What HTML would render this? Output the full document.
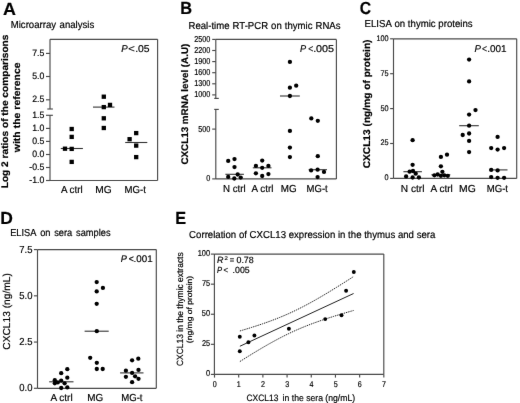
<!DOCTYPE html>
<html><head><meta charset="utf-8"><style>
html,body{margin:0;padding:0;background:#fff;}
svg{display:block;}
text{font-family:"Liberation Sans",sans-serif;text-rendering:geometricPrecision;stroke:#000;stroke-width:0.18px;}
#w{will-change:transform;width:520px;height:403px;}
</style></head><body>
<div id="w"><svg width="520" height="403" viewBox="0 0 520 403">
<defs><filter id="bl" color-interpolation-filters="sRGB" x="0" y="0" width="520" height="403" filterUnits="userSpaceOnUse"><feConvolveMatrix order="3" kernelMatrix="0.00276 0.04704 0.00276 0.04704 0.80077 0.04704 0.00276 0.04704 0.00276" edgeMode="duplicate" preserveAlpha="true"/></filter></defs>
<g filter="url(#bl)">
<rect width="520" height="403" fill="#fff"/>
<text transform="translate(3.10,14.65) scale(1.0235,1)" font-size="17.5" font-weight="bold" fill="#000" >A</text>
<text transform="translate(180.24,13.75) scale(0.9368,1)" font-size="17.5" font-weight="bold" fill="#000" >B</text>
<text transform="translate(359.82,14.05) scale(0.8986,1)" font-size="17.5" font-weight="bold" fill="#000" >C</text>
<text transform="translate(0.17,223.85) scale(0.9983,1)" font-size="17.5" font-weight="bold" fill="#000" >D</text>
<text transform="translate(175.35,224.05) scale(0.9286,1)" font-size="17.5" font-weight="bold" fill="#000" >E</text>
<text transform="translate(10.71,28.40) scale(1.0325,1.08)" font-size="9.3" font-weight="normal" fill="#000">Microarray</text>
<text transform="translate(59.55,28.40) scale(1.0325,1.08)" font-size="9.3" font-weight="normal" fill="#000">analysis</text>
<text transform="translate(188.51,28.50) scale(1.0322,1.08)" font-size="9.3" font-weight="normal" fill="#000">Real-time</text>
<text transform="translate(232.56,28.50) scale(1.0322,1.08)" font-size="9.3" font-weight="normal" fill="#000">RT-PCR</text>
<text transform="translate(271.09,28.50) scale(1.0322,1.08)" font-size="9.3" font-weight="normal" fill="#000">on</text>
<text transform="translate(284.75,28.50) scale(1.0322,1.08)" font-size="9.3" font-weight="normal" fill="#000">thymic</text>
<text transform="translate(315.46,28.50) scale(1.0322,1.08)" font-size="9.3" font-weight="normal" fill="#000">RNAs</text>
<text transform="translate(364.51,26.50) scale(1.0356,1.08)" font-size="9.3" font-weight="normal" fill="#000">ELISA</text>
<text transform="translate(394.48,26.50) scale(1.0356,1.08)" font-size="9.3" font-weight="normal" fill="#000">on</text>
<text transform="translate(407.87,26.50) scale(1.0356,1.08)" font-size="9.3" font-weight="normal" fill="#000">thymic</text>
<text transform="translate(438.37,26.50) scale(1.0356,1.08)" font-size="9.3" font-weight="normal" fill="#000">proteins</text>
<text transform="translate(10.14,236.30) scale(0.9962,1.08)" font-size="9.3" font-weight="normal" fill="#000">ELISA</text>
<text transform="translate(40.17,236.30) scale(0.9962,1.08)" font-size="9.3" font-weight="normal" fill="#000">on</text>
<text transform="translate(54.24,236.30) scale(0.9962,1.08)" font-size="9.3" font-weight="normal" fill="#000">sera</text>
<text transform="translate(76.04,236.30) scale(0.9962,1.08)" font-size="9.3" font-weight="normal" fill="#000">samples</text>
<text transform="translate(189.12,238.40) scale(1.0356,1.08)" font-size="9.3" font-weight="normal" fill="#000">Correlation</text>
<text transform="translate(238.90,238.40) scale(1.0356,1.08)" font-size="9.3" font-weight="normal" fill="#000">of</text>
<text transform="translate(249.61,238.40) scale(1.0356,1.08)" font-size="9.3" font-weight="normal" fill="#000">CXCL13</text>
<text transform="translate(288.69,238.40) scale(1.0356,1.08)" font-size="9.3" font-weight="normal" fill="#000">expression</text>
<text transform="translate(337.94,238.40) scale(1.0356,1.08)" font-size="9.3" font-weight="normal" fill="#000">in</text>
<text transform="translate(348.11,238.40) scale(1.0356,1.08)" font-size="9.3" font-weight="normal" fill="#000">the</text>
<text transform="translate(364.18,238.40) scale(1.0356,1.08)" font-size="9.3" font-weight="normal" fill="#000">thymus</text>
<text transform="translate(397.90,238.40) scale(1.0356,1.08)" font-size="9.3" font-weight="normal" fill="#000">and</text>
<text transform="translate(416.64,238.40) scale(1.0356,1.08)" font-size="9.3" font-weight="normal" fill="#000">sera</text>
<line x1="50.0" y1="39.3" x2="157.6" y2="39.3" stroke="#4a4a4a" stroke-width="1.15" />
<line x1="157.6" y1="39.3" x2="157.6" y2="180.5" stroke="#4a4a4a" stroke-width="1.15" />
<line x1="50.0" y1="180.5" x2="157.6" y2="180.5" stroke="#4a4a4a" stroke-width="1.15" />
<line x1="50.0" y1="39.3" x2="50.0" y2="109.0" stroke="#4a4a4a" stroke-width="1.15" />
<line x1="47.3" y1="109.0" x2="52.9" y2="109.0" stroke="#4a4a4a" stroke-width="1.15" />
<line x1="50.0" y1="115.3" x2="50.0" y2="180.5" stroke="#4a4a4a" stroke-width="1.15" />
<line x1="46.0" y1="115.3" x2="52.9" y2="115.3" stroke="#4a4a4a" stroke-width="1.15" />
<line x1="46.0" y1="53.4" x2="50.0" y2="53.4" stroke="#4a4a4a" stroke-width="1.15" />
<text transform="translate(32.20,56.00) scale(0.9500,1)" font-size="9.2" font-weight="normal" fill="#000">7.5</text>
<line x1="46.0" y1="76.5" x2="50.0" y2="76.5" stroke="#4a4a4a" stroke-width="1.15" />
<text transform="translate(32.18,79.10) scale(0.9500,1)" font-size="9.2" font-weight="normal" fill="#000">5.0</text>
<line x1="46.0" y1="99.8" x2="50.0" y2="99.8" stroke="#4a4a4a" stroke-width="1.15" />
<text transform="translate(32.20,102.40) scale(0.9500,1)" font-size="9.2" font-weight="normal" fill="#000">2.5</text>
<text transform="translate(32.20,117.90) scale(0.9500,1)" font-size="9.2" font-weight="normal" fill="#000">1.5</text>
<line x1="46.0" y1="128.4" x2="50.0" y2="128.4" stroke="#4a4a4a" stroke-width="1.15" />
<text transform="translate(32.18,131.00) scale(0.9500,1)" font-size="9.2" font-weight="normal" fill="#000">1.0</text>
<line x1="46.0" y1="141.4" x2="50.0" y2="141.4" stroke="#4a4a4a" stroke-width="1.15" />
<text transform="translate(32.20,144.00) scale(0.9500,1)" font-size="9.2" font-weight="normal" fill="#000">0.5</text>
<line x1="46.0" y1="154.5" x2="50.0" y2="154.5" stroke="#4a4a4a" stroke-width="1.15" />
<text transform="translate(32.18,157.10) scale(0.9500,1)" font-size="9.2" font-weight="normal" fill="#000">0.0</text>
<line x1="46.0" y1="167.5" x2="50.0" y2="167.5" stroke="#4a4a4a" stroke-width="1.15" />
<text transform="translate(29.29,170.10) scale(0.9500,1)" font-size="9.2" font-weight="normal" fill="#000">-0.5</text>
<line x1="46.0" y1="180.5" x2="50.0" y2="180.5" stroke="#4a4a4a" stroke-width="1.15" />
<text transform="translate(29.27,183.10) scale(0.9500,1)" font-size="9.2" font-weight="normal" fill="#000">-1.0</text>
<line x1="60.8" y1="148.5" x2="82.9" y2="148.5" stroke="#333" stroke-width="1.1" />
<line x1="93.0" y1="107.1" x2="114.5" y2="107.1" stroke="#333" stroke-width="1.1" />
<line x1="125.2" y1="142.5" x2="147.3" y2="142.5" stroke="#333" stroke-width="1.1" />
<text transform="translate(60.88,193.40) scale(0.9610,1)" font-size="10.2" font-weight="normal" fill="#000" >A ctrl</text>
<text transform="translate(95.36,193.40) scale(0.9990,1)" font-size="10.2" font-weight="normal" fill="#000" >MG</text>
<text transform="translate(124.61,193.40) scale(0.9425,1)" font-size="10.2" font-weight="normal" fill="#000" >MG-t</text>
<text transform="translate(121.21,51.70) scale(0.9780,1)" font-size="9.9" fill="#000" font-style="italic">P</text>
<text transform="translate(128.24,51.70) scale(1.1246,1)" font-size="9.9" fill="#000">&lt;</text>
<text transform="translate(135.16,51.70) scale(1.0502,1)" font-size="9.9" fill="#000">.05</text>
<text transform="translate(8.40,188.28) rotate(-90) scale(1.0562,1)" font-size="9.6" font-weight="bold" fill="#000">Log 2 ratios of the comparisons</text>
<text transform="translate(20.00,152.27) rotate(-90) scale(1.0945,1)" font-size="9.6" font-weight="bold" fill="#000">with the reference</text>
<line x1="215.8" y1="39.4" x2="336.4" y2="39.4" stroke="#4a4a4a" stroke-width="1.15" />
<line x1="336.4" y1="39.4" x2="336.4" y2="178.9" stroke="#4a4a4a" stroke-width="1.15" />
<line x1="215.8" y1="178.9" x2="336.4" y2="178.9" stroke="#4a4a4a" stroke-width="1.15" />
<line x1="215.8" y1="39.4" x2="215.8" y2="98.4" stroke="#4a4a4a" stroke-width="1.15" />
<line x1="214.2" y1="98.4" x2="218.8" y2="98.4" stroke="#4a4a4a" stroke-width="1.15" />
<line x1="215.8" y1="109.4" x2="215.8" y2="178.9" stroke="#4a4a4a" stroke-width="1.15" />
<line x1="214.2" y1="109.4" x2="218.8" y2="109.4" stroke="#4a4a4a" stroke-width="1.15" />
<line x1="212.2" y1="39.4" x2="215.8" y2="39.4" stroke="#4a4a4a" stroke-width="1.15" />
<text transform="translate(194.13,41.90) scale(0.8500,1)" font-size="8.6" font-weight="normal" fill="#000">2500</text>
<line x1="212.2" y1="50.5" x2="215.8" y2="50.5" stroke="#4a4a4a" stroke-width="1.15" />
<text transform="translate(194.13,53.00) scale(0.8500,1)" font-size="8.6" font-weight="normal" fill="#000">2200</text>
<line x1="212.2" y1="61.599999999999994" x2="215.8" y2="61.599999999999994" stroke="#4a4a4a" stroke-width="1.15" />
<text transform="translate(194.13,64.10) scale(0.8500,1)" font-size="8.6" font-weight="normal" fill="#000">1900</text>
<line x1="212.2" y1="72.69999999999999" x2="215.8" y2="72.69999999999999" stroke="#4a4a4a" stroke-width="1.15" />
<text transform="translate(194.13,75.20) scale(0.8500,1)" font-size="8.6" font-weight="normal" fill="#000">1600</text>
<line x1="212.2" y1="83.8" x2="215.8" y2="83.8" stroke="#4a4a4a" stroke-width="1.15" />
<text transform="translate(194.13,86.30) scale(0.8500,1)" font-size="8.6" font-weight="normal" fill="#000">1300</text>
<line x1="212.2" y1="94.9" x2="215.8" y2="94.9" stroke="#4a4a4a" stroke-width="1.15" />
<text transform="translate(194.13,97.40) scale(0.8500,1)" font-size="8.6" font-weight="normal" fill="#000">1000</text>
<line x1="212.2" y1="129.1" x2="215.8" y2="129.1" stroke="#4a4a4a" stroke-width="1.15" />
<text transform="translate(198.18,131.60) scale(0.8500,1)" font-size="8.6" font-weight="normal" fill="#000">500</text>
<line x1="212.2" y1="178.9" x2="215.8" y2="178.9" stroke="#4a4a4a" stroke-width="1.15" />
<text transform="translate(206.32,181.40) scale(0.8500,1)" font-size="8.6" font-weight="normal" fill="#000">0</text>
<line x1="225.4" y1="174.3" x2="243.9" y2="174.3" stroke="#333" stroke-width="1.1" />
<line x1="252.8" y1="167.8" x2="271.5" y2="167.8" stroke="#333" stroke-width="1.1" />
<line x1="280.0" y1="96.0" x2="299.8" y2="96.0" stroke="#333" stroke-width="1.1" />
<line x1="308.6" y1="169.7" x2="327.0" y2="169.7" stroke="#333" stroke-width="1.1" />
<text transform="translate(223.00,191.80) scale(0.9523,1)" font-size="10.2" font-weight="normal" fill="#000" >N ctrl</text>
<text transform="translate(251.48,191.80) scale(0.9656,1)" font-size="10.2" font-weight="normal" fill="#000" >A ctrl</text>
<text transform="translate(280.69,191.80) scale(0.9652,1)" font-size="10.2" font-weight="normal" fill="#000" >MG</text>
<text transform="translate(306.61,191.80) scale(0.9333,1)" font-size="10.2" font-weight="normal" fill="#000" >MG-t</text>
<text transform="translate(299.92,51.90) scale(0.9299,1)" font-size="9.9" fill="#000" font-style="italic">P</text>
<text transform="translate(308.27,51.90) scale(0.8747,1)" font-size="9.9" fill="#000">&lt;</text>
<text transform="translate(313.13,51.90) scale(1.0908,1)" font-size="9.9" fill="#000">.005</text>
<text transform="translate(187.80,164.59) rotate(-90) scale(1.0248,1)" font-size="9.6" font-weight="bold" fill="#000">CXCL13 mRNA level (A.U)</text>
<line x1="393.5" y1="38.8" x2="516.7" y2="38.8" stroke="#4a4a4a" stroke-width="1.15" />
<line x1="516.7" y1="38.8" x2="516.7" y2="178.4" stroke="#4a4a4a" stroke-width="1.15" />
<line x1="393.5" y1="38.8" x2="393.5" y2="178.4" stroke="#4a4a4a" stroke-width="1.15" />
<line x1="393.5" y1="178.4" x2="516.7" y2="178.4" stroke="#4a4a4a" stroke-width="1.15" />
<line x1="390.1" y1="38.8" x2="393.5" y2="38.8" stroke="#4a4a4a" stroke-width="1.15" />
<text transform="translate(376.42,40.70) scale(0.9000,1)" font-size="8.1" font-weight="normal" fill="#000">100</text>
<line x1="390.1" y1="73.69999999999999" x2="393.5" y2="73.69999999999999" stroke="#4a4a4a" stroke-width="1.15" />
<text transform="translate(380.50,75.60) scale(0.9000,1)" font-size="8.1" font-weight="normal" fill="#000">75</text>
<line x1="390.1" y1="108.6" x2="393.5" y2="108.6" stroke="#4a4a4a" stroke-width="1.15" />
<text transform="translate(380.48,110.50) scale(0.9000,1)" font-size="8.1" font-weight="normal" fill="#000">50</text>
<line x1="390.1" y1="143.5" x2="393.5" y2="143.5" stroke="#4a4a4a" stroke-width="1.15" />
<text transform="translate(380.50,145.40) scale(0.9000,1)" font-size="8.1" font-weight="normal" fill="#000">25</text>
<line x1="390.1" y1="178.39999999999998" x2="393.5" y2="178.39999999999998" stroke="#4a4a4a" stroke-width="1.15" />
<text transform="translate(384.53,180.30) scale(0.9000,1)" font-size="8.1" font-weight="normal" fill="#000">0</text>
<line x1="403.4" y1="171.7" x2="421.9" y2="171.7" stroke="#333" stroke-width="1.1" />
<line x1="431.4" y1="174.8" x2="450.3" y2="174.8" stroke="#333" stroke-width="1.1" />
<line x1="459.2" y1="125.7" x2="478.8" y2="125.7" stroke="#333" stroke-width="1.1" />
<line x1="489.2" y1="169.9" x2="507.5" y2="169.9" stroke="#333" stroke-width="1.1" />
<text transform="translate(400.86,191.80) scale(0.9927,1)" font-size="10.2" font-weight="normal" fill="#000" >N ctrl</text>
<text transform="translate(430.57,191.80) scale(0.9838,1)" font-size="10.2" font-weight="normal" fill="#000" >A ctrl</text>
<text transform="translate(459.04,191.80) scale(1.0192,1)" font-size="10.2" font-weight="normal" fill="#000" >MG</text>
<text transform="translate(486.71,191.80) scale(0.9425,1)" font-size="10.2" font-weight="normal" fill="#000" >MG-t</text>
<text transform="translate(474.41,51.70) scale(0.9780,1)" font-size="9.9" fill="#000" font-style="italic">P</text>
<text transform="translate(481.97,51.70) scale(0.8747,1)" font-size="9.9" fill="#000">&lt;</text>
<text transform="translate(487.30,51.70) scale(1.0059,1)" font-size="9.9" fill="#000">.001</text>
<text transform="translate(370.30,168.31) rotate(-90) scale(1.0379,1)" font-size="9.8" font-weight="bold" fill="#000">CXCL13 (ng/mg of protein)</text>
<line x1="37.5" y1="249.6" x2="156.3" y2="249.6" stroke="#4a4a4a" stroke-width="1.15" />
<line x1="156.3" y1="249.6" x2="156.3" y2="388.3" stroke="#4a4a4a" stroke-width="1.15" />
<line x1="37.5" y1="249.6" x2="37.5" y2="388.3" stroke="#4a4a4a" stroke-width="1.15" />
<line x1="37.5" y1="388.3" x2="156.3" y2="388.3" stroke="#4a4a4a" stroke-width="1.15" />
<line x1="33.9" y1="249.6" x2="37.5" y2="249.6" stroke="#4a4a4a" stroke-width="1.15" />
<text transform="translate(19.29,252.50) scale(0.9300,1)" font-size="10.2" font-weight="normal" fill="#000">7.5</text>
<line x1="33.9" y1="295.83" x2="37.5" y2="295.83" stroke="#4a4a4a" stroke-width="1.15" />
<text transform="translate(19.27,298.73) scale(0.9300,1)" font-size="10.2" font-weight="normal" fill="#000">5.0</text>
<line x1="33.9" y1="342.06" x2="37.5" y2="342.06" stroke="#4a4a4a" stroke-width="1.15" />
<text transform="translate(19.29,344.96) scale(0.9300,1)" font-size="10.2" font-weight="normal" fill="#000">2.5</text>
<line x1="33.9" y1="388.28999999999996" x2="37.5" y2="388.28999999999996" stroke="#4a4a4a" stroke-width="1.15" />
<text transform="translate(19.27,391.19) scale(0.9300,1)" font-size="10.2" font-weight="normal" fill="#000">0.0</text>
<line x1="49.2" y1="381.8" x2="73.5" y2="381.8" stroke="#333" stroke-width="1.1" />
<line x1="84.6" y1="331.2" x2="108.7" y2="331.2" stroke="#333" stroke-width="1.1" />
<line x1="120.1" y1="372.9" x2="143.5" y2="372.9" stroke="#333" stroke-width="1.1" />
<text transform="translate(50.48,400.50) scale(0.9793,1)" font-size="10.2" font-weight="normal" fill="#000" >A ctrl</text>
<text transform="translate(87.28,400.50) scale(0.9720,1)" font-size="10.2" font-weight="normal" fill="#000" >MG</text>
<text transform="translate(121.21,400.50) scale(0.9425,1)" font-size="10.2" font-weight="normal" fill="#000" >MG-t</text>
<text transform="translate(120.72,261.90) scale(0.9590,1)" font-size="9.6" fill="#000" font-style="italic">P</text>
<text transform="translate(128.67,261.90) scale(0.9021,1)" font-size="9.6" fill="#000">&lt;</text>
<text transform="translate(133.62,261.90) scale(1.0201,1)" font-size="9.6" fill="#000">.001</text>
<text transform="translate(10.20,349.71) rotate(-90) scale(1.0099,1)" font-size="10.1" font-weight="normal" fill="#000">CXCL13 (ng/mL)</text>
<line x1="214.4" y1="254.1" x2="383.8" y2="254.1" stroke="#4a4a4a" stroke-width="1.15" />
<line x1="383.8" y1="254.1" x2="383.8" y2="374.4" stroke="#4a4a4a" stroke-width="1.15" />
<line x1="214.4" y1="254.1" x2="214.4" y2="374.4" stroke="#4a4a4a" stroke-width="1.15" />
<line x1="214.4" y1="374.4" x2="383.8" y2="374.4" stroke="#4a4a4a" stroke-width="1.15" />
<line x1="210.9" y1="254.1" x2="214.4" y2="254.1" stroke="#4a4a4a" stroke-width="1.15" />
<text transform="translate(197.75,255.80) scale(0.8700,1)" font-size="8.5" font-weight="normal" fill="#000">100</text>
<line x1="210.9" y1="284.175" x2="214.4" y2="284.175" stroke="#4a4a4a" stroke-width="1.15" />
<text transform="translate(201.89,285.88) scale(0.8700,1)" font-size="8.5" font-weight="normal" fill="#000">75</text>
<line x1="210.9" y1="314.25" x2="214.4" y2="314.25" stroke="#4a4a4a" stroke-width="1.15" />
<text transform="translate(201.87,315.95) scale(0.8700,1)" font-size="8.5" font-weight="normal" fill="#000">50</text>
<line x1="210.9" y1="344.325" x2="214.4" y2="344.325" stroke="#4a4a4a" stroke-width="1.15" />
<text transform="translate(201.89,346.02) scale(0.8700,1)" font-size="8.5" font-weight="normal" fill="#000">25</text>
<line x1="210.9" y1="374.4" x2="214.4" y2="374.4" stroke="#4a4a4a" stroke-width="1.15" />
<text transform="translate(205.97,376.10) scale(0.8700,1)" font-size="8.5" font-weight="normal" fill="#000">0</text>
<line x1="214.5" y1="374.4" x2="214.5" y2="377.6" stroke="#4a4a4a" stroke-width="1.15" />
<text transform="translate(212.71,386.50) scale(0.8500,1)" font-size="8.4" font-weight="normal" fill="#000">0</text>
<line x1="238.69" y1="374.4" x2="238.69" y2="377.6" stroke="#4a4a4a" stroke-width="1.15" />
<text transform="translate(236.81,386.50) scale(0.8500,1)" font-size="8.4" font-weight="normal" fill="#000">1</text>
<line x1="262.88" y1="374.4" x2="262.88" y2="377.6" stroke="#4a4a4a" stroke-width="1.15" />
<text transform="translate(261.10,386.50) scale(0.8500,1)" font-size="8.4" font-weight="normal" fill="#000">2</text>
<line x1="287.07" y1="374.4" x2="287.07" y2="377.6" stroke="#4a4a4a" stroke-width="1.15" />
<text transform="translate(285.31,386.50) scale(0.8500,1)" font-size="8.4" font-weight="normal" fill="#000">3</text>
<line x1="311.26" y1="374.4" x2="311.26" y2="377.6" stroke="#4a4a4a" stroke-width="1.15" />
<text transform="translate(309.50,386.50) scale(0.8500,1)" font-size="8.4" font-weight="normal" fill="#000">4</text>
<line x1="335.45" y1="374.4" x2="335.45" y2="377.6" stroke="#4a4a4a" stroke-width="1.15" />
<text transform="translate(333.67,386.50) scale(0.8500,1)" font-size="8.4" font-weight="normal" fill="#000">5</text>
<line x1="359.64" y1="374.4" x2="359.64" y2="377.6" stroke="#4a4a4a" stroke-width="1.15" />
<text transform="translate(357.83,386.50) scale(0.8500,1)" font-size="8.4" font-weight="normal" fill="#000">6</text>
<line x1="383.83000000000004" y1="374.4" x2="383.83000000000004" y2="377.6" stroke="#4a4a4a" stroke-width="1.15" />
<text transform="translate(382.05,386.50) scale(0.8500,1)" font-size="8.4" font-weight="normal" fill="#000">7</text>
<line x1="239.8995" y1="346.2540105" x2="353.5925" y2="293.50125749999995" stroke="#222" stroke-width="1.0" />
<polyline points="239.90,330.97 242.74,330.13 245.58,329.27 248.43,328.40 251.27,327.51 254.11,326.61 256.95,325.69 259.80,324.75 262.64,323.78 265.48,322.80 268.32,321.79 271.17,320.75 274.01,319.68 276.85,318.58 279.69,317.44 282.53,316.27 285.38,315.06 288.22,313.82 291.06,312.53 293.90,311.20 296.75,309.83 299.59,308.43 302.43,306.98 305.27,305.50 308.12,303.99 310.96,302.44 313.80,300.86 316.64,299.25 319.48,297.61 322.33,295.95 325.17,294.26 328.01,292.56 330.85,290.83 333.70,289.09 336.54,287.33 339.38,285.56 342.22,283.78 345.07,281.98 347.91,280.18 350.75,278.36 353.59,276.53" fill="none" stroke="#222" stroke-width="1.0" stroke-dasharray="1.4,0.9"/>
<polyline points="239.90,361.53 242.74,359.74 245.58,357.96 248.43,356.20 251.27,354.45 254.11,352.71 256.95,351.00 259.80,349.30 262.64,347.62 265.48,345.97 268.32,344.34 271.17,342.75 274.01,341.18 276.85,339.64 279.69,338.14 282.53,336.67 285.38,335.24 288.22,333.85 291.06,332.50 293.90,331.19 296.75,329.92 299.59,328.69 302.43,327.50 305.27,326.34 308.12,325.22 310.96,324.13 313.80,323.07 316.64,322.05 319.48,321.05 322.33,320.07 325.17,319.12 328.01,318.18 330.85,317.27 333.70,316.37 336.54,315.49 339.38,314.63 342.22,313.77 345.07,312.93 347.91,312.10 350.75,311.28 353.59,310.47" fill="none" stroke="#222" stroke-width="1.0" stroke-dasharray="1.4,0.9"/>
<text transform="translate(246.48,401.00) scale(0.9174,1)" font-size="9.2" fill="#000">CXCL13</text>
<text transform="translate(282.62,401.00) scale(0.9403,1)" font-size="9.2" fill="#000">in the sera (ng/mL)</text>
<text transform="translate(183.40,366.02) rotate(-90) scale(0.9394,1)" font-size="9.0" font-weight="normal" fill="#000">CXCL13 in the thymic extracts</text>
<text transform="translate(192.20,343.13) rotate(-90) scale(1.1227,1)" font-size="7.6" font-weight="normal" fill="#000">(ng/mg of protein)</text>
<text transform="translate(217.03,263.40) scale(0.9895,1)" font-size="9.0" fill="#000" font-style="italic">R</text>
<text transform="translate(229.84,263.40) scale(0.8433,1)" font-size="9.0" fill="#000">=</text>
<text transform="translate(236.45,263.40) scale(0.9843,1)" font-size="9.0" fill="#000">0.78</text>
<text transform="translate(224.40,259.70) scale(1.0989,1)" font-size="5.4" fill="#000">2</text>
<text transform="translate(216.97,272.90) scale(0.8658,1)" font-size="8.8" fill="#000" font-style="italic">P</text>
<text transform="translate(223.40,272.90) scale(0.9138,1)" font-size="8.8" fill="#000">&lt;</text>
<text transform="translate(232.61,272.90) scale(0.9955,1)" font-size="8.8" fill="#000">.005</text>
<rect x="69.55" y="126.85" width="4.3" height="4.3" fill="#000"/>
<rect x="69.55" y="134.75" width="4.3" height="4.3" fill="#000"/>
<rect x="69.55" y="146.75" width="4.3" height="4.3" fill="#000"/>
<rect x="69.55" y="159.75" width="4.3" height="4.3" fill="#000"/>
<rect x="62.85" y="146.55" width="4.3" height="4.3" fill="#000"/>
<rect x="101.65" y="94.55" width="4.3" height="4.3" fill="#000"/>
<rect x="101.65" y="104.95" width="4.3" height="4.3" fill="#000"/>
<rect x="101.65" y="116.15" width="4.3" height="4.3" fill="#000"/>
<rect x="101.65" y="125.85" width="4.3" height="4.3" fill="#000"/>
<rect x="107.85" y="102.75" width="4.3" height="4.3" fill="#000"/>
<rect x="134.05" y="130.95" width="4.3" height="4.3" fill="#000"/>
<rect x="134.05" y="143.45" width="4.3" height="4.3" fill="#000"/>
<rect x="134.05" y="154.95" width="4.3" height="4.3" fill="#000"/>
<rect x="127.45" y="137.05" width="4.3" height="4.3" fill="#000"/>
<circle cx="228.2" cy="160.9" r="2.15" fill="#000"/>
<circle cx="234.5" cy="159.1" r="2.15" fill="#000"/>
<circle cx="234.5" cy="167.1" r="2.15" fill="#000"/>
<circle cx="228.2" cy="176.9" r="2.15" fill="#000"/>
<circle cx="234.3" cy="178.5" r="2.15" fill="#000"/>
<circle cx="237.7" cy="174.5" r="2.15" fill="#000"/>
<circle cx="240.7" cy="177.6" r="2.15" fill="#000"/>
<circle cx="262.2" cy="160.6" r="2.15" fill="#000"/>
<circle cx="255.9" cy="165.9" r="2.15" fill="#000"/>
<circle cx="268.4" cy="165.9" r="2.15" fill="#000"/>
<circle cx="262.2" cy="167.8" r="2.15" fill="#000"/>
<circle cx="255.9" cy="173.3" r="2.15" fill="#000"/>
<circle cx="268.4" cy="174.1" r="2.15" fill="#000"/>
<circle cx="262.2" cy="176.0" r="2.15" fill="#000"/>
<circle cx="289.9" cy="61.9" r="2.15" fill="#000"/>
<circle cx="289.9" cy="87.7" r="2.15" fill="#000"/>
<circle cx="296.2" cy="85.7" r="2.15" fill="#000"/>
<circle cx="289.9" cy="96.0" r="2.15" fill="#000"/>
<circle cx="289.9" cy="130.9" r="2.15" fill="#000"/>
<circle cx="289.9" cy="147.6" r="2.15" fill="#000"/>
<circle cx="289.9" cy="157.1" r="2.15" fill="#000"/>
<circle cx="311.3" cy="118.4" r="2.15" fill="#000"/>
<circle cx="317.8" cy="120.8" r="2.15" fill="#000"/>
<circle cx="317.8" cy="156.2" r="2.15" fill="#000"/>
<circle cx="311.1" cy="170.4" r="2.15" fill="#000"/>
<circle cx="317.6" cy="169.7" r="2.15" fill="#000"/>
<circle cx="324.0" cy="171.9" r="2.15" fill="#000"/>
<circle cx="317.6" cy="177.1" r="2.15" fill="#000"/>
<circle cx="412.6" cy="140.2" r="2.15" fill="#000"/>
<circle cx="412.6" cy="164.8" r="2.15" fill="#000"/>
<circle cx="409.6" cy="171.7" r="2.15" fill="#000"/>
<circle cx="413.0" cy="171.0" r="2.15" fill="#000"/>
<circle cx="415.7" cy="173.7" r="2.15" fill="#000"/>
<circle cx="406.1" cy="176.4" r="2.15" fill="#000"/>
<circle cx="412.6" cy="177.5" r="2.15" fill="#000"/>
<circle cx="418.9" cy="177.5" r="2.15" fill="#000"/>
<circle cx="447.0" cy="154.7" r="2.15" fill="#000"/>
<circle cx="440.9" cy="156.9" r="2.15" fill="#000"/>
<circle cx="440.9" cy="166.3" r="2.15" fill="#000"/>
<circle cx="442.4" cy="171.8" r="2.15" fill="#000"/>
<circle cx="434.4" cy="175.3" r="2.15" fill="#000"/>
<circle cx="437.7" cy="174.5" r="2.15" fill="#000"/>
<circle cx="440.9" cy="175.8" r="2.15" fill="#000"/>
<circle cx="444.3" cy="175.3" r="2.15" fill="#000"/>
<circle cx="447.8" cy="175.8" r="2.15" fill="#000"/>
<circle cx="469.1" cy="59.6" r="2.15" fill="#000"/>
<circle cx="469.1" cy="81.4" r="2.15" fill="#000"/>
<circle cx="475.5" cy="110.1" r="2.15" fill="#000"/>
<circle cx="469.1" cy="114.6" r="2.15" fill="#000"/>
<circle cx="469.1" cy="125.7" r="2.15" fill="#000"/>
<circle cx="462.7" cy="135.0" r="2.15" fill="#000"/>
<circle cx="469.1" cy="133.5" r="2.15" fill="#000"/>
<circle cx="469.1" cy="140.9" r="2.15" fill="#000"/>
<circle cx="469.1" cy="152.1" r="2.15" fill="#000"/>
<circle cx="497.6" cy="136.9" r="2.15" fill="#000"/>
<circle cx="491.2" cy="148.1" r="2.15" fill="#000"/>
<circle cx="497.6" cy="149.6" r="2.15" fill="#000"/>
<circle cx="504.1" cy="148.1" r="2.15" fill="#000"/>
<circle cx="491.2" cy="169.9" r="2.15" fill="#000"/>
<circle cx="497.6" cy="170.4" r="2.15" fill="#000"/>
<circle cx="491.2" cy="177.1" r="2.15" fill="#000"/>
<circle cx="497.6" cy="177.8" r="2.15" fill="#000"/>
<circle cx="504.1" cy="177.8" r="2.15" fill="#000"/>
<circle cx="67.3" cy="369.2" r="2.15" fill="#000"/>
<circle cx="61.2" cy="373.2" r="2.15" fill="#000"/>
<circle cx="67.3" cy="377.7" r="2.15" fill="#000"/>
<circle cx="54.8" cy="380.2" r="2.15" fill="#000"/>
<circle cx="61.2" cy="380.7" r="2.15" fill="#000"/>
<circle cx="54.8" cy="383.3" r="2.15" fill="#000"/>
<circle cx="57.8" cy="382.4" r="2.15" fill="#000"/>
<circle cx="64.6" cy="383.3" r="2.15" fill="#000"/>
<circle cx="61.2" cy="388.0" r="2.15" fill="#000"/>
<circle cx="67.3" cy="387.4" r="2.15" fill="#000"/>
<circle cx="96.7" cy="282.1" r="2.15" fill="#000"/>
<circle cx="102.9" cy="287.9" r="2.15" fill="#000"/>
<circle cx="96.7" cy="291.4" r="2.15" fill="#000"/>
<circle cx="96.7" cy="303.8" r="2.15" fill="#000"/>
<circle cx="96.8" cy="331.2" r="2.15" fill="#000"/>
<circle cx="90.2" cy="357.8" r="2.15" fill="#000"/>
<circle cx="96.8" cy="362.8" r="2.15" fill="#000"/>
<circle cx="96.8" cy="369.0" r="2.15" fill="#000"/>
<circle cx="102.7" cy="369.0" r="2.15" fill="#000"/>
<circle cx="132.1" cy="360.3" r="2.15" fill="#000"/>
<circle cx="138.3" cy="358.7" r="2.15" fill="#000"/>
<circle cx="125.9" cy="370.7" r="2.15" fill="#000"/>
<circle cx="138.5" cy="369.9" r="2.15" fill="#000"/>
<circle cx="132.1" cy="372.9" r="2.15" fill="#000"/>
<circle cx="125.9" cy="376.8" r="2.15" fill="#000"/>
<circle cx="135.1" cy="376.3" r="2.15" fill="#000"/>
<circle cx="138.5" cy="378.8" r="2.15" fill="#000"/>
<circle cx="132.1" cy="382.2" r="2.15" fill="#000"/>
<circle cx="239.8" cy="336.8" r="1.95" fill="#000"/>
<circle cx="254.4" cy="335.5" r="1.95" fill="#000"/>
<circle cx="248.4" cy="342.3" r="1.95" fill="#000"/>
<circle cx="239.8" cy="351.3" r="1.95" fill="#000"/>
<circle cx="288.9" cy="328.8" r="1.95" fill="#000"/>
<circle cx="325.2" cy="319.1" r="1.95" fill="#000"/>
<circle cx="341.5" cy="315.2" r="1.95" fill="#000"/>
<circle cx="346.1" cy="290.8" r="1.95" fill="#000"/>
<circle cx="353.8" cy="272.0" r="1.95" fill="#000"/>
</g>
</svg></div>
</body></html>
